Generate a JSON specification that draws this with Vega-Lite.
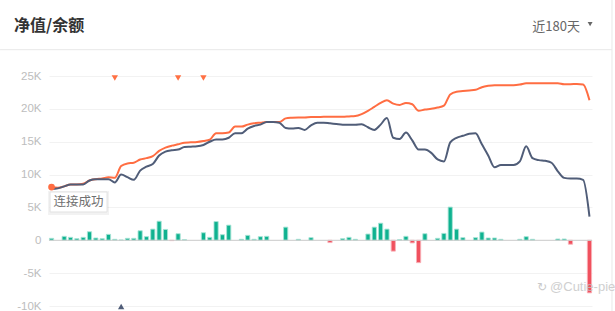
{
  "$schema": "https://vega.github.io/schema/vega-lite/v6.json",
  "width": 543,
  "height": 230,
  "autosize": {"type": "none"},
  "padding": {"left": 49, "top": 76, "right": 23, "bottom": 5},
  "background": "white",
  "config": {"view": {"stroke": null}, "font": "Noto Sans CJK SC",
    "axisY": {"title": null, "grid": true, "gridColor": "#f2f2f2", "domain": false, "ticks": false,
      "tickCount": 8,
      "labelExpr": "datum.value == 0 ? '0' : (datum.value / 1000) + 'K'",
      "labelOverlap": false,
      "labelColor": "#bdbdbd", "labelFontSize": 11.5, "labelPadding": 8, "labelFont": "Liberation Sans"}},
  "data": {"values": [
    {"i":0,"bar":300,"bal":8100,"nav":7800},
    {"i":1,"bar":0,"bal":8000,"nav":7900},
    {"i":2,"bar":600,"bal":8200,"nav":8200},
    {"i":3,"bar":450,"bal":8500,"nav":8500},
    {"i":4,"bar":250,"bal":8500,"nav":8500},
    {"i":5,"bar":450,"bal":8600,"nav":8500},
    {"i":6,"bar":1300,"bal":9100,"nav":9100},
    {"i":7,"bar":350,"bal":9300,"nav":9300},
    {"i":8,"bar":250,"bal":9400,"nav":9300},
    {"i":9,"bar":900,"bal":9600,"nav":9300},
    {"i":10,"bar":150,"bal":9500,"nav":8800,"flag":"sell"},
    {"i":11,"bar":50,"bal":11300,"nav":10000,"flag":"buy"},
    {"i":12,"bar":300,"bal":11700,"nav":9600},
    {"i":13,"bar":300,"bal":11800,"nav":9200},
    {"i":14,"bar":1450,"bal":12300,"nav":10600},
    {"i":15,"bar":550,"bal":12500,"nav":11200},
    {"i":16,"bar":1700,"bal":12800,"nav":11600},
    {"i":17,"bar":2900,"bal":13600,"nav":12900},
    {"i":18,"bar":1650,"bal":14100,"nav":13500},
    {"i":19,"bar":-50,"bal":14400,"nav":13700},
    {"i":20,"bar":1000,"bal":14600,"nav":13800,"flag":"sell"},
    {"i":21,"bar":100,"bal":14850,"nav":14200},
    {"i":22,"bar":0,"bal":14900,"nav":14250},
    {"i":23,"bar":0,"bal":14950,"nav":14300},
    {"i":24,"bar":1150,"bal":15100,"nav":14500,"flag":"sell"},
    {"i":25,"bar":450,"bal":15300,"nav":15000},
    {"i":26,"bar":2850,"bal":16300,"nav":15350},
    {"i":27,"bar":850,"bal":16300,"nav":15350},
    {"i":28,"bar":2300,"bal":16400,"nav":15600},
    {"i":29,"bar":0,"bal":17300,"nav":16300},
    {"i":30,"bar":150,"bal":17300,"nav":16300},
    {"i":31,"bar":750,"bal":17600,"nav":17000},
    {"i":32,"bar":150,"bal":17800,"nav":17400},
    {"i":33,"bar":550,"bal":17900,"nav":17600},
    {"i":34,"bar":600,"bal":18000,"nav":18000},
    {"i":35,"bar":0,"bal":18000,"nav":18000},
    {"i":36,"bar":0,"bal":18000,"nav":17900},
    {"i":37,"bar":2000,"bal":18550,"nav":17100},
    {"i":38,"bar":0,"bal":18650,"nav":17000},
    {"i":39,"bar":150,"bal":18700,"nav":17100},
    {"i":40,"bar":0,"bal":18700,"nav":16800},
    {"i":41,"bar":400,"bal":18750,"nav":17500},
    {"i":42,"bar":0,"bal":18750,"nav":17900},
    {"i":43,"bar":0,"bal":18800,"nav":17900},
    {"i":44,"bar":-350,"bal":18800,"nav":17800},
    {"i":45,"bar":0,"bal":18800,"nav":17700},
    {"i":46,"bar":250,"bal":18800,"nav":17600},
    {"i":47,"bar":450,"bal":18850,"nav":17600},
    {"i":48,"bar":150,"bal":18900,"nav":17600},
    {"i":49,"bar":0,"bal":19200,"nav":17650},
    {"i":50,"bar":950,"bal":19700,"nav":17200},
    {"i":51,"bar":2000,"bal":20300,"nav":16800},
    {"i":52,"bar":2600,"bal":20900,"nav":17600},
    {"i":53,"bar":1700,"bal":21300,"nav":18600},
    {"i":54,"bar":-1650,"bal":20800,"nav":15600},
    {"i":55,"bar":100,"bal":20600,"nav":15400},
    {"i":56,"bar":600,"bal":20900,"nav":16400},
    {"i":57,"bar":-400,"bal":20700,"nav":15200},
    {"i":58,"bar":-3400,"bal":19700,"nav":13800},
    {"i":59,"bar":1000,"bal":19900,"nav":13800},
    {"i":60,"bar":0,"bal":20000,"nav":13300},
    {"i":61,"bar":300,"bal":20200,"nav":12300},
    {"i":62,"bar":1050,"bal":20500,"nav":12000},
    {"i":63,"bar":5050,"bal":22200,"nav":14900},
    {"i":64,"bar":1700,"bal":22600,"nav":15600},
    {"i":65,"bar":400,"bal":22700,"nav":15900},
    {"i":66,"bar":0,"bal":22800,"nav":16200},
    {"i":67,"bar":400,"bal":22900,"nav":16300},
    {"i":68,"bar":1250,"bal":23300,"nav":14600},
    {"i":69,"bar":350,"bal":23500,"nav":12900},
    {"i":70,"bar":350,"bal":23600,"nav":11100},
    {"i":71,"bar":150,"bal":23600,"nav":11450},
    {"i":72,"bar":0,"bal":23600,"nav":11450},
    {"i":73,"bar":0,"bal":23600,"nav":11450},
    {"i":74,"bar":150,"bal":23700,"nav":12000},
    {"i":75,"bar":550,"bal":23900,"nav":14300},
    {"i":76,"bar":150,"bal":23900,"nav":12500},
    {"i":77,"bar":0,"bal":23900,"nav":12200},
    {"i":78,"bar":0,"bal":23900,"nav":12100},
    {"i":79,"bar":0,"bal":23900,"nav":11800},
    {"i":80,"bar":200,"bal":23900,"nav":10500},
    {"i":81,"bar":200,"bal":23750,"nav":9500},
    {"i":82,"bar":-600,"bal":23750,"nav":9400},
    {"i":83,"bar":0,"bal":23800,"nav":9400},
    {"i":84,"bar":0,"bal":23700,"nav":9200},
    {"i":85,"bar":-8000,"bal":21300,"nav":3600}
  ]},
  "layer": [
    {
      "transform": [{"filter": "datum.bar != 0"}],
      "mark": {"type": "bar", "width": 4.2, "strokeWidth": 0.9},
      "encoding": {
        "x": {"field": "i", "type": "quantitative", "scale": {"domain": [-0.4, 85.4], "nice": false, "zero": false, "padding": 0}, "axis": null},
        "y": {"field": "bar", "type": "quantitative",
          "scale": {"domain": [-10000, 25000], "nice": false, "zero": false},
          "axis": {"title": null, "tickCount": 8, "values": [-10000, -5000, 0, 5000, 10000, 15000, 20000, 25000]}},
        "y2": {"datum": 0},
        "fill": {"condition": {"test": "datum.bar < 0", "value": "#f0515e"}, "value": "#0fb290"},
        "stroke": {"condition": {"test": "datum.bar < 0", "value": "#f8b0b7"}, "value": "#a8e4d6"}
      }
    },
    {
      "data": {"values": [{}]},
      "mark": {"type": "rule", "color": "#cccccc", "strokeWidth": 1},
      "encoding": {
        "y": {"datum": 0, "type": "quantitative"}
      }
    },
    {
      "mark": {"type": "line", "color": "#ff6d42", "strokeWidth": 2, "interpolate": "monotone"},
      "encoding": {
        "x": {"field": "i", "type": "quantitative", "axis": null},
        "y": {"field": "bal", "type": "quantitative"}
      }
    },
    {
      "mark": {"type": "line", "color": "#505d78", "strokeWidth": 2, "interpolate": "monotone"},
      "encoding": {
        "x": {"field": "i", "type": "quantitative", "axis": null},
        "y": {"field": "nav", "type": "quantitative"}
      }
    },
    {
      "transform": [{"filter": "datum.i == 0"}],
      "mark": {"type": "point", "filled": true, "color": "#ff6d42", "size": 45, "opacity": 1},
      "encoding": {
        "x": {"field": "i", "type": "quantitative", "axis": null},
        "y": {"field": "bal", "type": "quantitative"}
      }
    },
    {
      "transform": [{"filter": "datum.flag == 'sell'"}],
      "mark": {"type": "point", "shape": "triangle-down", "filled": true, "color": "#ff7043", "size": 40, "opacity": 1},
      "encoding": {
        "x": {"field": "i", "type": "quantitative", "axis": null},
        "y": {"datum": 24700, "type": "quantitative"}
      }
    },
    {
      "transform": [{"filter": "datum.flag == 'buy'"}],
      "mark": {"type": "point", "shape": "triangle-up", "filled": true, "color": "#505d78", "size": 40, "opacity": 1},
      "encoding": {
        "x": {"field": "i", "type": "quantitative", "axis": null},
        "y": {"datum": -10070, "type": "quantitative"}
      }
    },
    {
      "data": {"values": [{}]},
      "mark": {"type": "point", "shape": "M-1,-0.393H1V0.393H-1Z", "filled": true, "color": "#000000", "opacity": 0.05, "size": 3721, "yOffset": 1},
      "encoding": {
        "x": {"datum": 4.27, "type": "quantitative", "axis": null},
        "y": {"datum": 5830, "type": "quantitative"}
      }
    },
    {
      "data": {"values": [{}]},
      "mark": {"type": "point", "shape": "M-1,-0.351H1V0.351H-1Z", "filled": true, "fill": "#ffffff", "stroke": "#e2e2e2", "strokeWidth": 1, "opacity": 1, "size": 3249},
      "encoding": {
        "x": {"datum": 4.27, "type": "quantitative", "axis": null},
        "y": {"datum": 5830, "type": "quantitative"}
      }
    },
    {
      "data": {"values": [{"t": "连接成功"}]},
      "mark": {"type": "text", "align": "center", "baseline": "middle", "fontSize": 12.5, "color": "#707070", "font": "Noto Sans CJK SC"},
      "encoding": {
        "x": {"datum": 4.27, "type": "quantitative", "axis": null},
        "y": {"datum": 5830, "type": "quantitative"},
        "text": {"field": "t"}
      }
    },
    {
      "data": {"values": [{"t": "净值/余额"}]},
      "mark": {"type": "text", "align": "left", "baseline": "alphabetic", "fontSize": 16, "fontWeight": "bold", "color": "#333333", "font": "Noto Sans CJK SC"},
      "encoding": {
        "x": {"datum": -5.93, "type": "quantitative", "axis": null},
        "y": {"datum": 31850, "type": "quantitative"},
        "text": {"field": "t"}
      }
    },
    {
      "data": {"values": [{"t": "近180天"}]},
      "mark": {"type": "text", "align": "right", "baseline": "alphabetic", "fontSize": 13, "color": "#666666", "font": "Noto Sans CJK SC"},
      "encoding": {
        "x": {"datum": 83.5, "type": "quantitative", "axis": null},
        "y": {"datum": 31850, "type": "quantitative"},
        "text": {"field": "t"}
      }
    },
    {
      "data": {"values": [{}]},
      "mark": {"type": "point", "shape": "triangle-down", "filled": true, "color": "#666666", "size": 24, "opacity": 1},
      "encoding": {
        "x": {"datum": 85.1, "type": "quantitative", "axis": null},
        "y": {"datum": 32900, "type": "quantitative"}
      }
    },
    {
      "data": {"values": [{}]},
      "mark": {"type": "rule", "color": "#e8e8e8", "strokeWidth": 1},
      "encoding": {
        "x": {"datum": -8.14, "type": "quantitative", "axis": null},
        "x2": {"datum": 88.56},
        "y": {"datum": 29000, "type": "quantitative"}
      }
    },
    {
      "data": {"values": [{}]},
      "mark": {"type": "rule", "color": "#e8e8e8", "strokeWidth": 1},
      "encoding": {
        "x": {"datum": 88.56, "type": "quantitative", "axis": null},
        "y": {"datum": 36600, "type": "quantitative"},
        "y2": {"datum": -10800}
      }
    },
    {
      "data": {"values": [{"t": "↻"}]},
      "mark": {"type": "text", "align": "center", "baseline": "middle", "fontSize": 12, "color": "#bdbdbd", "opacity": 0.8, "font": "DejaVu Sans"},
      "encoding": {
        "x": {"datum": 77.5, "type": "quantitative", "axis": null},
        "y": {"datum": -7100, "type": "quantitative"},
        "text": {"field": "t"}
      }
    },
    {
      "data": {"values": [{"t": "@Cutie-pie"}]},
      "mark": {"type": "text", "align": "left", "baseline": "middle", "fontSize": 13, "color": "#c4c4c4", "opacity": 0.8, "font": "Liberation Sans"},
      "encoding": {
        "x": {"datum": 78.77, "type": "quantitative", "axis": null},
        "y": {"datum": -7100, "type": "quantitative"},
        "text": {"field": "t"}
      }
    }
  ]
}
